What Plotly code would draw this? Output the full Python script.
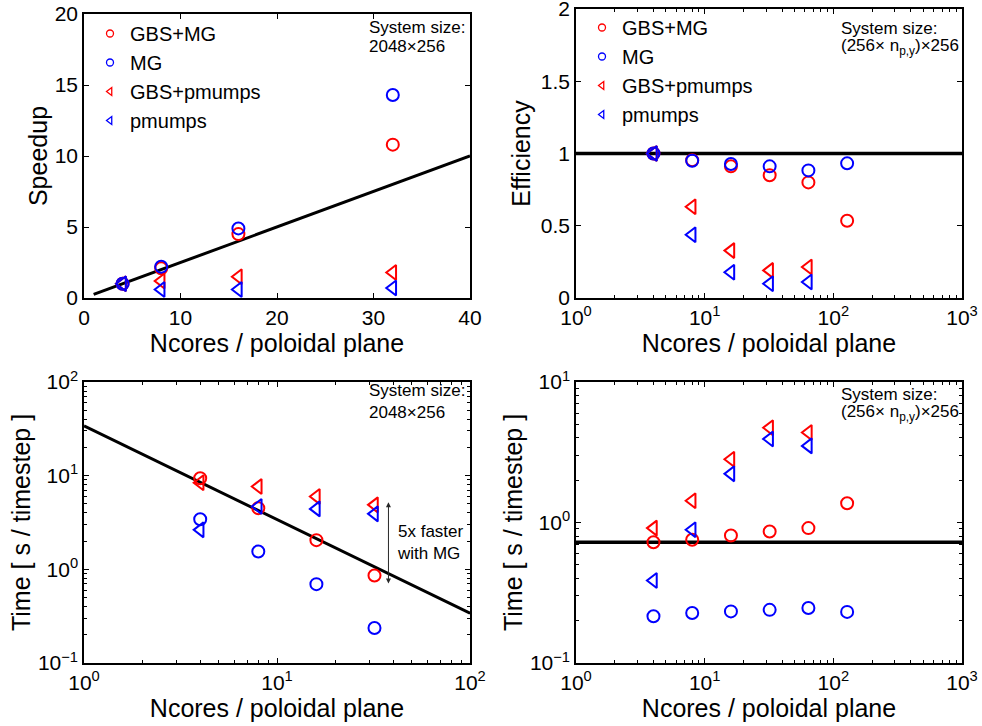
import math
import plotly.graph_objects as go

# ---------------- data ----------------
ncores_strong = [4, 8, 16, 32]
ncores_weak = [4, 8, 16, 32, 64, 128]

# Panel 1: speedup (strong scaling, 2048x256)
speedup_gbs_mg = [1.0, 2.1, 4.5, 10.8]
speedup_mg = [1.0, 2.2, 4.9, 14.3]
speedup_gbs_pmumps = [1.0, 1.2, 1.5, 1.8]
speedup_pmumps = [1.0, 0.6, 0.6, 0.7]
ideal_speedup_x = [1, 40]
ideal_speedup_y = [0.25, 10]

# Panel 2: efficiency (weak scaling)
eff_gbs_mg = [1.0, 0.953, 0.911, 0.849, 0.80, 0.535]
eff_mg = [1.0, 0.95, 0.927, 0.911, 0.883, 0.932]
eff_gbs_pmumps = [1.0, 0.632, 0.328, 0.191, 0.215]
eff_pmumps = [1.0, 0.438, 0.178, 0.099, 0.111]
eff_ref_x = [1, 1000]
eff_ref_y = [1, 1]

# Panel 3: time (strong scaling)
time_s_gbs_mg = [9.4, 4.5, 2.05, 0.86]
time_s_mg = [3.43, 1.55, 0.695, 0.236]
time_s_gbs_pmumps = [8.4, 7.65, 5.98, 4.88]
time_s_pmumps = [2.64, 4.68, 4.42, 3.91]
time_s_ideal_x = [1, 100]
time_s_ideal_y = [34, 0.34]

# Panel 4: time (weak scaling)
time_w_gbs_mg = [0.724, 0.753, 0.809, 0.863, 0.912, 1.37]
time_w_mg = [0.215, 0.227, 0.233, 0.239, 0.246, 0.231]
time_w_gbs_pmumps = [0.912, 1.43, 2.82, 4.73, 4.37]
time_w_pmumps = [0.387, 0.887, 2.22, 3.93, 3.51]
time_w_ref_x = [1, 1000]
time_w_ref_y = [0.724, 0.724]

# annotation arrow (panel 3)
arrow_x = 37.8
arrow_top = 5.2
arrow_bottom = 0.68

series_names = ["GBS+MG", "MG", "GBS+pmumps", "pmumps"]
size_label_strong = ["System size:", "2048\u00d7256"]
size_label_weak = ["System size:", "(256\u00d7 n<sub>p,y</sub>)\u00d7256"]

RED = "rgb(255,0,0)"
BLUE = "rgb(0,0,255)"
styles = [
    ("circle-open", RED),
    ("circle-open", BLUE),
    ("triangle-left-open", RED),
    ("triangle-left-open", BLUE),
]

FONT = "Liberation Sans, Arial, Helvetica, sans-serif"
fig = go.Figure()


def add_series(xs_list, ys_list, xa, ya, legend=None):
    for (sym, col), name, xs, ys in zip(styles, series_names, xs_list, ys_list):
        size = 12 if sym == "circle-open" else 13
        fig.add_trace(go.Scatter(
            x=xs, y=ys, mode="markers", name=name,
            xaxis=xa, yaxis=ya,
            marker=dict(symbol=sym, size=size, color=col,
                        line=dict(color=col, width=2)),
            showlegend=False,
        ))
        if legend is not None:
            # legend key entry (small symbol, as in the reference key)
            fig.add_trace(go.Scatter(
                x=[None], y=[None], mode="markers", name=name,
                xaxis=xa, yaxis=ya,
                marker=dict(symbol=sym, size=7, color=col,
                            line=dict(color=col, width=1.3)),
                showlegend=True, legend=legend, hoverinfo="skip",
            ))


def add_line(xs, ys, xa, ya, width=3):
    fig.add_trace(go.Scatter(x=xs, y=ys, mode="lines", xaxis=xa, yaxis=ya,
                             line=dict(color="black", width=width),
                             showlegend=False, hoverinfo="skip"))


# Panel 1
add_line(ideal_speedup_x, ideal_speedup_y, "x", "y")
add_series([ncores_strong] * 4,
           [speedup_gbs_mg, speedup_mg, speedup_gbs_pmumps, speedup_pmumps],
           "x", "y", legend="legend")
# Panel 2
add_line(eff_ref_x, eff_ref_y, "x2", "y2", width=3.5)
add_series([ncores_weak, ncores_weak, ncores_weak[:5], ncores_weak[:5]],
           [eff_gbs_mg, eff_mg, eff_gbs_pmumps, eff_pmumps],
           "x2", "y2", legend="legend2")
# Panel 3
add_line(time_s_ideal_x, time_s_ideal_y, "x3", "y3")
add_series([ncores_strong] * 4,
           [time_s_gbs_mg, time_s_mg, time_s_gbs_pmumps, time_s_pmumps],
           "x3", "y3")
# Panel 4
add_line(time_w_ref_x, time_w_ref_y, "x4", "y4", width=3.5)
add_series([ncores_weak, ncores_weak, ncores_weak[:5], ncores_weak[:5]],
           [time_w_gbs_mg, time_w_mg, time_w_gbs_pmumps, time_w_pmumps],
           "x4", "y4")


def minor_log(lo, hi):
    vals = []
    for e in range(lo, hi):
        for m in range(2, 10):
            vals.append(m * 10 ** e)
    return vals


def pow_text(exps):
    out = []
    for e in exps:
        s = str(e).replace("-", "\u2212")
        out.append(f"10<sup>{s}</sup>")
    return out


common = dict(
    showline=True, linecolor="black", linewidth=1.5, mirror="allticks",
    ticks="inside", ticklen=5, tickwidth=1, tickcolor="black",
    showgrid=False, zeroline=False,
    tickfont=dict(family=FONT, size=21, color="black"),
    automargin=False, ticklabeloverflow="allow",
)
title_font = dict(family=FONT, size=25, color="black")

xd_l = [84 / 982, 470 / 982]
xd_r = [576 / 982, 962 / 982]
yd_t1 = [1 - 298 / 726, 1 - 14 / 726]
yd_t2 = [1 - 298 / 726, 1 - 9 / 726]
yd_b = [1 - 663 / 726, 1 - 382 / 726]


def log_axis(lo, hi, domain, anchor, title, standoff):
    return dict(
        type="log", range=[lo, hi], domain=domain, anchor=anchor,
        tickvals=[10 ** e for e in range(lo, hi + 1)],
        ticktext=pow_text(range(lo, hi + 1)),
        minor=dict(tickvals=minor_log(lo, hi), ticks="inside", ticklen=3,
                   tickcolor="black", showgrid=False),
        title=dict(text=title, font=title_font, standoff=standoff),
        **common,
    )


legend_common = dict(xanchor="left", yanchor="top", bgcolor="rgba(0,0,0,0)",
                     font=dict(family=FONT, size=20, color="black"),
                     itemsizing="trace", tracegroupgap=0, itemwidth=30)

fig.update_layout(
    width=982, height=726,
    margin=dict(l=0, r=0, t=0, b=0),
    paper_bgcolor="white", plot_bgcolor="white",
    font=dict(family=FONT, color="black"),
    xaxis=dict(range=[0, 40], domain=xd_l, anchor="y",
               tickvals=[0, 10, 20, 30, 40],
               title=dict(text="Ncores / poloidal plane", font=title_font, standoff=0),
               **common),
    yaxis=dict(range=[0, 20], domain=yd_t1, anchor="x",
               tickvals=[0, 5, 10, 15, 20],
               title=dict(text="Speedup", font=title_font, standoff=0),
               **common),
    xaxis2=log_axis(0, 3, xd_r, "y2", "Ncores / poloidal plane", 2),
    yaxis2=dict(range=[-0.00001, 2.00001], domain=yd_t2, anchor="x2",
                tickvals=[0, 0.5, 1, 1.5, 2], ticktext=["0", "0.5", "1", "1.5", "2"],
                title=dict(text="Efficiency", font=title_font, standoff=3),
                **common),
    xaxis3=log_axis(0, 2, xd_l, "y3", "Ncores / poloidal plane", 2),
    yaxis3=log_axis(-1, 2, yd_b, "x3", "Time [ s / timestep ]", 0),
    xaxis4=log_axis(0, 3, xd_r, "y4", "Ncores / poloidal plane", 2),
    yaxis4=log_axis(-1, 1, yd_b, "x4", "Time [ s / timestep ]", 0),
    legend=dict(x=90 / 982, y=1 - 14 / 726, **legend_common),
    legend2=dict(x=582 / 982, y=1 - 8 / 726, **legend_common),
)

ann_font = dict(family=FONT, size=17, color="black")


def size_label(lines, xa, ya, xpos, ypos):
    out = []
    for txt, yy in zip(lines, ypos):
        out.append(dict(text=txt, xref=f"{xa} domain", yref=f"{ya} domain",
                        x=xpos, y=yy, xanchor="left", yanchor="middle",
                        showarrow=False, align="left", font=ann_font,
                        borderpad=0))
    return out


annotations = []
annotations += size_label(size_label_strong, "x", "y", 0.735, [0.954, 0.884])
annotations += size_label(size_label_weak, "x2", "y2", 0.684, [0.931, 0.867])
annotations += size_label(size_label_strong, "x3", "y3", 0.735, [0.968, 0.893])
annotations += size_label(size_label_weak, "x4", "y4", 0.684, [0.956, 0.888])
annotations += [
    # double arrow
    dict(x=math.log10(arrow_x), y=math.log10(arrow_top),
         ax=math.log10(arrow_x), ay=math.log10(arrow_bottom),
         xref="x3", yref="y3", axref="x3", ayref="y3", text="", showarrow=True,
         arrowhead=2, startarrowhead=2, arrowside="end+start", arrowsize=1,
         arrowwidth=1, arrowcolor="rgb(40,40,40)", standoff=0, startstandoff=0),
    dict(text="5x faster<br>with MG", xref="x3", yref="y3",
         x=math.log10(arrow_x * 1.08), y=math.log10(1.95),
         xanchor="left", yanchor="middle", showarrow=False, align="left",
         font=ann_font),
]
fig.update_layout(annotations=annotations)

fig.write_html("out.html")
